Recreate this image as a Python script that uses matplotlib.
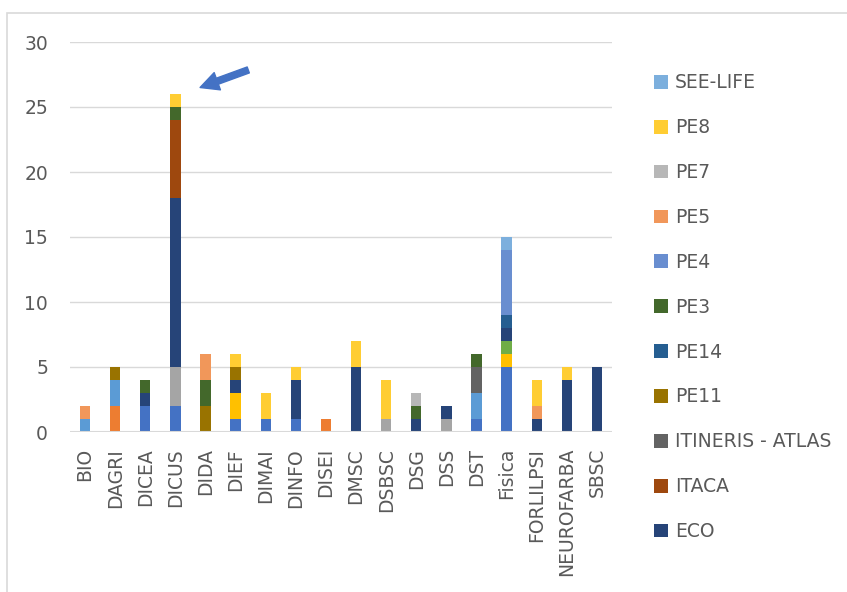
import matplotlib.pyplot as plt
import numpy as np
from matplotlib.patches import Patch, Rectangle

# -----------------------------------------------------------------------------
# Data
# -----------------------------------------------------------------------------

CATEGORIES = [
    "BIO", "DAGRI", "DICEA", "DICUS", "DIDA", "DIEF", "DIMAI", "DINFO", "DISEI",
    "DMSC", "DSBSC", "DSG", "DSS", "DST", "Fisica", "FORLILPSI", "NEUROFARBA",
    "SBSC",
]

# series not shown in the (truncated) legend
SERIE_1 = [0, 0, 2, 2, 0, 1, 1, 1, 0, 0, 0, 0, 0, 1, 5, 0, 0, 0]
SERIE_2 = [0, 2, 0, 0, 0, 0, 0, 0, 1, 0, 0, 0, 0, 0, 0, 0, 0, 0]
SERIE_3 = [0, 0, 0, 3, 0, 0, 0, 0, 0, 0, 1, 0, 1, 0, 0, 0, 0, 0]
SERIE_4 = [0, 0, 0, 0, 0, 2, 0, 0, 0, 0, 0, 0, 0, 0, 1, 0, 0, 0]
SERIE_5 = [1, 2, 0, 0, 0, 0, 0, 0, 0, 0, 0, 0, 0, 2, 0, 0, 0, 0]
SERIE_6 = [0, 0, 0, 0, 0, 0, 0, 0, 0, 0, 0, 0, 0, 0, 1, 0, 0, 0]

ECO = [0, 0, 1, 13, 0, 1, 0, 3, 0, 5, 0, 1, 1, 0, 1, 1, 4, 5]
ITACA = [0, 0, 0, 6, 0, 0, 0, 0, 0, 0, 0, 0, 0, 0, 0, 0, 0, 0]
ITINERIS_ATLAS = [0, 0, 0, 0, 0, 0, 0, 0, 0, 0, 0, 0, 0, 2, 0, 0, 0, 0]
PE11 = [0, 1, 0, 0, 2, 1, 0, 0, 0, 0, 0, 0, 0, 0, 0, 0, 0, 0]
PE14 = [0, 0, 0, 0, 0, 0, 0, 0, 0, 0, 0, 0, 0, 0, 1, 0, 0, 0]
PE3 = [0, 0, 1, 1, 2, 0, 0, 0, 0, 0, 0, 1, 0, 1, 0, 0, 0, 0]
PE4 = [0, 0, 0, 0, 0, 0, 0, 0, 0, 0, 0, 0, 0, 0, 5, 0, 0, 0]
PE5 = [1, 0, 0, 0, 2, 0, 0, 0, 0, 0, 0, 0, 0, 0, 0, 1, 0, 0]
PE7 = [0, 0, 0, 0, 0, 0, 0, 0, 0, 0, 0, 1, 0, 0, 0, 0, 0, 0]
PE8 = [0, 0, 0, 1, 0, 1, 2, 1, 0, 2, 3, 0, 0, 0, 0, 2, 1, 0]
SEE_LIFE = [0, 0, 0, 0, 0, 0, 0, 0, 0, 0, 0, 0, 0, 0, 1, 0, 0, 0]

# (name, values, colour, in legend) in stacking order, bottom first
SERIES = [
    ("Serie 1", SERIE_1, "#4472C4", False),
    ("Serie 2", SERIE_2, "#ED7D31", False),
    ("Serie 3", SERIE_3, "#A5A5A5", False),
    ("Serie 4", SERIE_4, "#FFC000", False),
    ("Serie 5", SERIE_5, "#5B9BD5", False),
    ("Serie 6", SERIE_6, "#70AD47", False),
    ("ECO", ECO, "#264478", True),
    ("ITACA", ITACA, "#9E480E", True),
    ("ITINERIS - ATLAS", ITINERIS_ATLAS, "#636363", True),
    ("PE11", PE11, "#997300", True),
    ("PE14", PE14, "#255E91", True),
    ("PE3", PE3, "#43682B", True),
    ("PE4", PE4, "#698ED0", True),
    ("PE5", PE5, "#F1975A", True),
    ("PE7", PE7, "#B7B7B7", True),
    ("PE8", PE8, "#FFCD33", True),
    ("SEE-LIFE", SEE_LIFE, "#7CAFDD", True),
]

# -----------------------------------------------------------------------------
# Style
# -----------------------------------------------------------------------------

FONT_SIZE = 13.5
TEXT_COLOR = "#595959"
GRID_COLOR = "#D9D9D9"

plt.rcParams["font.family"] = ["DejaVu Sans"]

W, H = 847, 592
fig = plt.figure(figsize=(W / 100, H / 100), dpi=100)
ax = fig.add_axes([70 / W, 1 - 432 / H, (612 - 70) / W, (432 - 42) / H])

# chart frame (cropped on the right / bottom in the reference)
fig.patches.append(
    Rectangle((7 / W, -0.1), 1.1, 1 - 13 / H + 0.1, transform=fig.transFigure,
              fill=False, edgecolor=GRID_COLOR, linewidth=1.2)
)

x = np.arange(len(CATEGORIES))
bottom = np.zeros(len(CATEGORIES))
legend_handles = []
for name, values, color, shown in SERIES:
    vals = np.array(values, dtype=float)
    ax.bar(x, vals, width=0.34, bottom=bottom, color=color, zorder=3)
    bottom += vals
    if shown:
        legend_handles.append(Patch(facecolor=color, label=name))

ax.set_xlim(-0.5, len(CATEGORIES) - 0.5)
ax.set_ylim(0, 30)
ax.set_yticks(range(0, 31, 5))
ax.yaxis.grid(True, color=GRID_COLOR, linewidth=1.0, zorder=0)
ax.set_axisbelow(True)
for side in ["top", "right", "left", "bottom"]:
    ax.spines[side].set_visible(False)
ax.axhline(0, color=GRID_COLOR, linewidth=1.5, zorder=4)

ax.set_xticks(x)
ax.set_xticklabels(CATEGORIES, rotation=90)
ax.tick_params(axis="both", length=0, labelsize=FONT_SIZE, labelcolor=TEXT_COLOR)
ax.tick_params(axis="y", pad=22 * 0.72)
ax.tick_params(axis="x", pad=16 * 0.72)

# arrow pointing at the DICUS bar
ax.annotate(
    "",
    xy=(3.82, 26.5),
    xytext=(5.42, 27.85),
    arrowprops=dict(
        arrowstyle="simple,head_length=1.1,head_width=1.1,tail_width=0.38",
        mutation_scale=12,
        color="#4472C4",
        shrinkA=0,
        shrinkB=0,
    ),
    annotation_clip=False,
)

fig.legend(
    handles=legend_handles[::-1],
    loc="upper left",
    bbox_to_anchor=(645 / W, 1 - 64 / H),
    frameon=False,
    fontsize=FONT_SIZE,
    labelcolor=TEXT_COLOR,
    handlelength=0.75,
    handleheight=0.75,
    handletextpad=0.35,
    labelspacing=1.38,
    borderpad=0,
)

fig.savefig("out.png", dpi=100)
